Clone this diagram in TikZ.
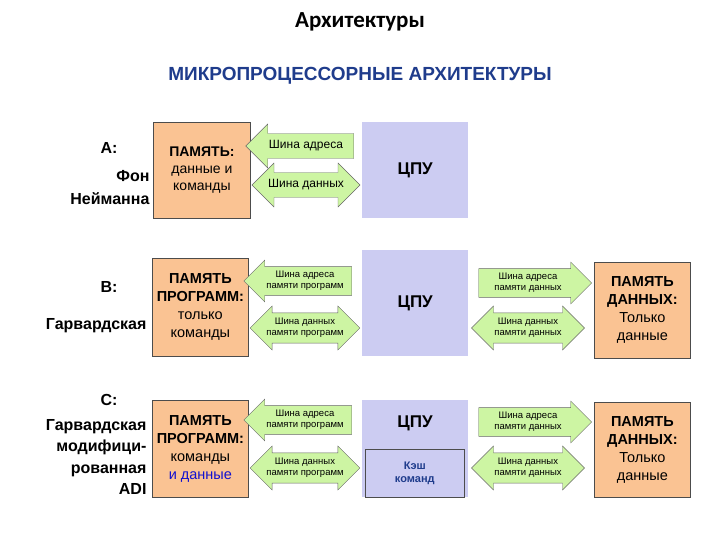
\documentclass[tikz,border=0pt]{standalone}
\usepackage{fontspec}
\setmainfont{Liberation Sans}
\newfontfamily\titlefont{Carlito}
\usetikzlibrary{shapes.arrows}
\definecolor{memc}{HTML}{FAC393}
\definecolor{cpuc}{HTML}{CCCCF2}
\definecolor{busc}{HTML}{CDF5A3}
\definecolor{subc}{HTML}{1F3C8C}
\definecolor{dblue}{HTML}{1010D0}
\begin{document}
\begin{tikzpicture}[x=1pt,y=-1pt,
  mem/.style={fill=memc,draw=black!70,line width=0.8pt,align=center,font=\fontsize{14.5}{18}\selectfont\bfseries},
  cpu/.style={fill=cpuc,draw=none,font=\fontsize{17}{19}\selectfont\bfseries},
  busl/.style={single arrow,shape border rotate=180,fill=busc,draw=black!60,line width=0.4pt,minimum width=42,single arrow head extend=5,minimum height=108,inner sep=1pt,align=center,font=\fontsize{9.5}{11}\selectfont},
  busr/.style={busl,shape border rotate=0},
  busd/.style={double arrow,fill=busc,draw=black!60,line width=0.4pt,minimum width=44,double arrow head extend=5,minimum height=108,inner sep=1pt,align=center,font=\fontsize{9.5}{11}\selectfont},
  lab/.style={font=\fontsize{16}{23}\selectfont\bfseries,align=right,anchor=east}]
\useasboundingbox (0,0) rectangle (720,540);
\node[font=\titlefont\fontsize{23}{26}\selectfont\bfseries] (t) at (360,22) {Архитектуры};
\node[font=\fontsize{19}{22}\selectfont\bfseries,text=subc] (st) at (360,76) {МИКРОПРОЦЕССОРНЫЕ АРХИТЕКТУРЫ};
% Row A
\node[mem,minimum width=97,minimum height=96,anchor=north west,font=\fontsize{14}{17}\selectfont] (ma) at (153,122) {\textbf{ПАМЯТЬ:}\\данные и\\команды};
\node[cpu,minimum width=106,minimum height=96,anchor=north west] (ca) at (362,122) {ЦПУ};
\node[busl,font=\fontsize{12}{14}\selectfont,minimum width=44] (a1) at (306,146) {Шина адреса};
\node[busd,font=\fontsize{12}{14}\selectfont] (a2) at (306,185) {Шина данных};
\node[lab] (la) at (121,148) {A:};
\node[lab] (la2) at (153,188) {Фон\\Нейманна};
% Row B
\node[mem,minimum width=96,minimum height=98,anchor=north west] (mb) at (152,258) {ПАМЯТЬ\\ПРОГРАММ:\\\mdseries только\\\mdseries команды};
\node[cpu,minimum width=106,minimum height=106,anchor=north west] (cb) at (362,250) {ЦПУ};
\node[busl] (b1) at (305,281) {Шина адреса\\памяти программ};
\node[busd] (b2) at (305,328) {Шина данных\\памяти программ};
\node[busr,minimum height=113] (b3) at (528,283) {Шина адреса\\памяти данных};
\node[busd,minimum height=113] (b4) at (528,328) {Шина данных\\памяти данных};
\node[mem,minimum width=96,minimum height=96,anchor=north west] (db) at (594,262) {ПАМЯТЬ\\ДАННЫХ:\\\mdseries Только\\\mdseries данные};
\node[lab] (lb) at (121,287) {B:};
\node[lab] (lb2) at (150,326) {Гарвардская};
% Row C
\node[mem,minimum width=96,minimum height=97,anchor=north west] (mc) at (152,400) {ПАМЯТЬ\\ПРОГРАММ:\\\mdseries команды\\\mdseries\textcolor{dblue}{и данные}};
\node[cpu,minimum width=106,minimum height=97,anchor=north west] (cc) at (362,400) {};
\node[font=\fontsize{17}{19}\selectfont\bfseries] (cct) at (415,423) {ЦПУ};
\node[fill=cpuc,draw=black!70,line width=0.6pt,minimum width=99,minimum height=48,anchor=north west,align=center,font=\fontsize{11}{13}\selectfont\bfseries,text=subc] (kc) at (365,449) {Кэш\\команд};
\node[busl] (c1) at (305,420) {Шина адреса\\памяти программ};
\node[busd] (c2) at (305,468) {Шина данных\\памяти программ};
\node[busr,minimum height=113] (c3) at (528,422) {Шина адреса\\памяти данных};
\node[busd,minimum height=113] (c4) at (528,468) {Шина данных\\памяти данных};
\node[mem,minimum width=96,minimum height=95,anchor=north west] (dc) at (594,402) {ПАМЯТЬ\\ДАННЫХ:\\\mdseries Только\\\mdseries данные};
\node[lab] (lc) at (121,400) {C:};
\node[lab,font=\fontsize{16}{21.5}\selectfont\bfseries] (lc2) at (150,457) {Гарвардская\\модифици-\\рованная\\ADI};
\end{tikzpicture}
\end{document}
